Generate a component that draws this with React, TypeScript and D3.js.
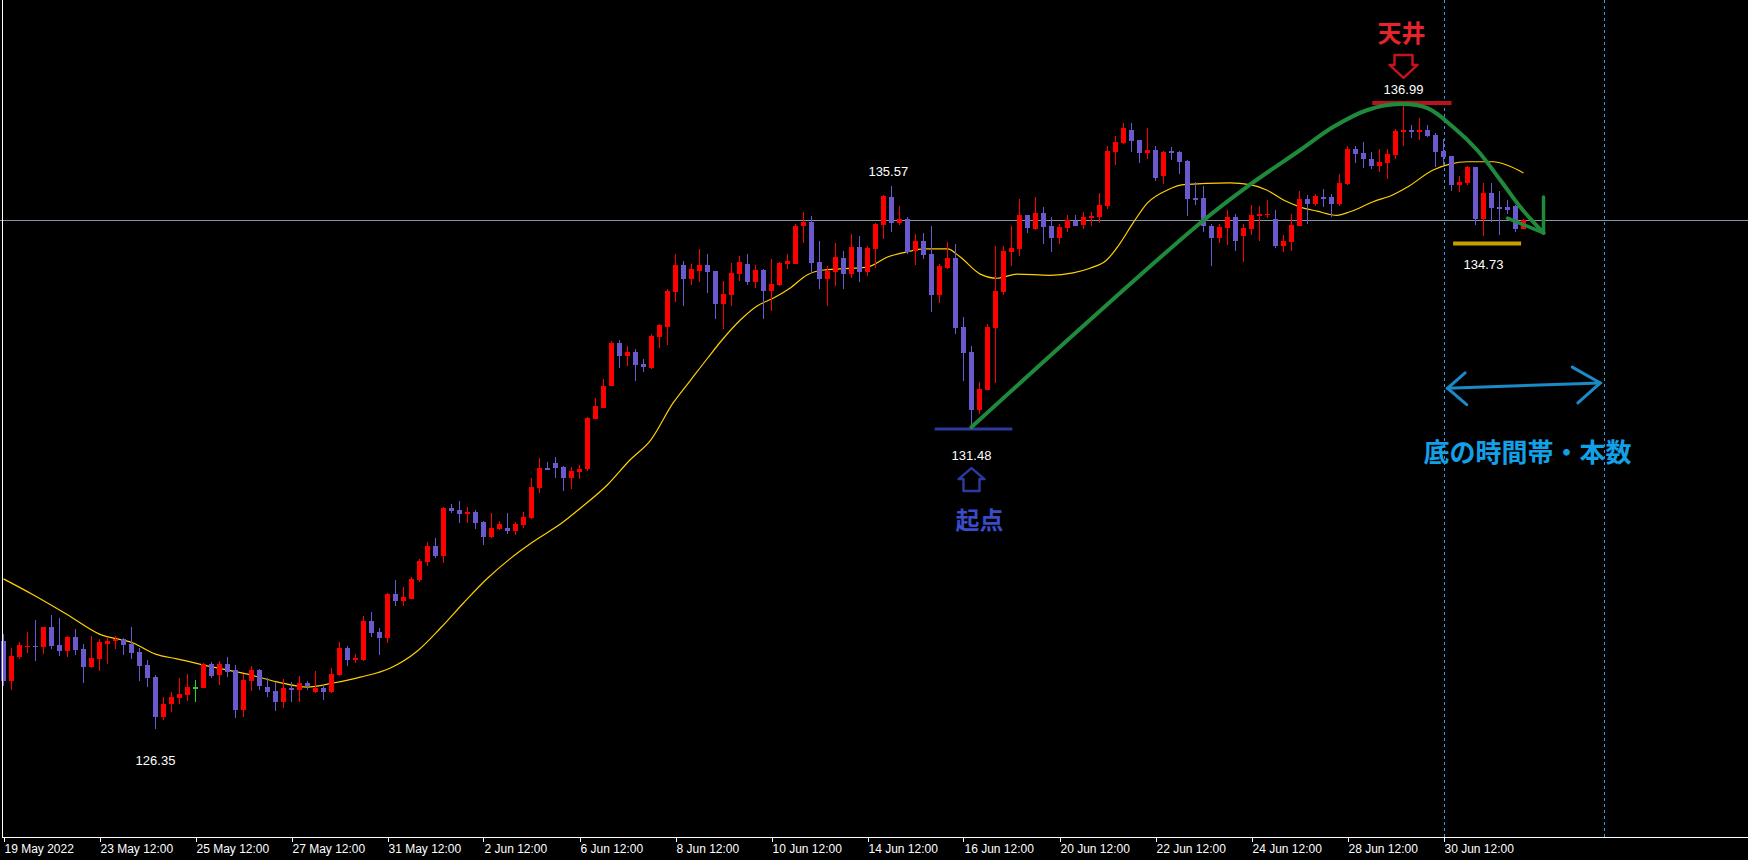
import React from 'react';
import * as d3 from 'd3';

// ---- Candle data (USDJPY H4, index 0 = 19 May 2022 12:00) ----
const opens = [127.85,127.17,127.58,127.74,127.76,127.74,128.08,127.77,127.67,127.91,127.71,127.40,127.54,127.80,127.84,127.88,127.80,127.66,127.43,127.23,126.56,126.77,126.88,126.92,127.06,127.05,127.45,127.26,127.45,127.35,126.67,127.16,127.35,127.06,126.99,126.81,127.04,127.01,127.13,126.98,127.04,126.98,127.26,127.72,127.53,127.52,128.18,128.00,127.90,128.64,128.53,128.56,128.88,129.19,129.46,129.29,130.10,130.07,130.01,130.04,129.87,129.62,129.75,129.76,129.72,129.82,129.93,130.44,130.78,130.87,130.80,130.62,130.72,130.76,131.62,131.81,132.18,132.91,132.69,132.76,132.55,132.48,133.01,133.18,133.78,134.23,134.00,134.14,134.23,134.13,133.58,133.73,134.09,134.25,133.95,134.15,133.80,133.89,134.26,134.26,134.89,134.97,134.29,134.00,134.12,134.35,134.09,134.54,134.12,134.51,134.92,135.39,134.95,135.02,134.47,134.64,134.42,133.73,134.19,134.35,133.18,132.76,131.77,132.11,133.16,133.77,134.46,134.51,135.08,134.85,135.12,134.90,134.70,134.87,134.99,134.92,135.04,135.05,135.24,136.16,136.31,136.53,136.36,136.14,136.19,135.74,136.17,136.16,136.00,135.37,135.37,134.90,134.70,134.87,135.05,134.73,134.85,135.06,135.09,135.02,134.56,134.63,134.90,135.36,135.27,135.39,135.39,135.27,135.61,136.21,136.14,136.04,135.92,135.97,136.11,136.50,136.53,136.50,136.53,136.45,136.17,136.09,135.60,135.63,135.90,135.02,135.46,135.22,135.22,135.24,134.85];
const highs = [127.96,127.72,127.83,128.00,128.20,128.09,128.28,128.23,127.93,128.05,127.79,127.93,127.88,127.92,127.93,127.89,128.08,127.73,127.52,127.27,126.89,126.98,127.21,127.28,127.18,127.47,127.49,127.50,127.57,127.43,127.28,127.42,127.37,127.21,127.15,127.20,127.15,127.25,127.16,127.33,127.11,127.38,127.83,127.76,127.62,128.27,128.34,128.06,128.66,128.88,128.76,128.93,129.24,129.53,129.59,130.12,130.17,130.22,130.12,130.07,129.88,130.02,129.88,130.02,129.87,130.04,130.61,130.95,130.89,130.97,130.82,130.80,130.84,131.65,131.97,132.30,132.94,132.96,132.86,132.81,132.64,133.07,133.24,133.83,134.43,134.30,134.25,134.51,134.42,134.14,133.97,134.27,134.39,134.42,134.23,134.17,134.33,134.29,134.42,134.94,135.14,135.07,134.64,134.22,134.61,134.47,134.76,134.73,134.56,134.95,135.43,135.57,135.24,135.05,134.76,134.78,134.90,134.25,134.63,134.59,133.35,132.86,132.25,133.24,134.55,134.56,134.89,135.36,135.09,135.39,135.22,135.05,134.93,135.09,135.09,135.14,135.14,135.46,136.26,136.42,136.65,136.65,136.36,136.56,136.25,136.17,136.24,136.17,136.02,135.65,135.58,134.93,134.93,135.17,135.11,134.93,135.26,135.23,135.34,135.17,134.74,135.11,135.49,135.43,135.44,135.53,135.44,135.79,136.26,136.25,136.33,136.15,136.21,136.21,136.55,136.99,136.62,136.73,136.62,136.48,136.38,136.09,135.75,135.92,135.90,135.63,135.63,135.49,135.34,135.26,135.02];
const lows = [127.08,127.01,127.54,127.64,127.50,127.62,127.71,127.59,127.58,127.60,127.13,127.39,127.34,127.46,127.71,127.60,127.54,127.17,127.07,126.35,126.50,126.64,126.78,126.83,126.80,127.04,127.22,127.09,127.23,126.54,126.56,126.99,127.01,126.89,126.65,126.70,126.81,126.80,127.01,126.96,126.84,126.96,127.25,127.42,127.47,127.51,127.92,127.61,127.81,128.44,128.44,128.55,128.85,129.12,129.26,129.17,130.02,129.85,129.85,129.74,129.48,129.60,129.73,129.67,129.65,129.77,129.92,130.36,130.75,130.62,130.40,130.43,130.59,130.74,131.61,131.80,132.17,132.48,132.51,132.27,132.42,132.47,132.83,132.87,133.61,133.54,133.90,133.95,133.76,133.32,133.14,133.54,133.97,133.90,133.85,133.31,133.46,133.88,134.16,134.25,134.61,134.10,133.82,133.53,133.88,133.82,134.02,133.95,134.04,134.19,134.68,134.80,134.92,134.43,134.24,134.33,133.44,133.59,134.17,133.07,132.27,131.48,131.71,132.11,132.23,133.73,134.21,134.38,134.78,134.83,134.59,134.46,134.60,134.80,134.89,134.85,134.90,134.95,135.18,135.93,136.29,136.16,135.97,136.04,135.67,135.62,136.02,135.79,135.06,135.25,134.80,134.21,134.61,134.58,134.48,134.29,134.75,134.65,135.03,134.52,134.46,134.48,134.89,134.94,135.23,135.22,135.05,135.23,135.60,135.97,135.88,135.87,135.82,135.70,136.04,136.26,136.39,136.36,136.41,135.90,135.94,135.49,135.48,135.60,134.92,134.73,134.97,134.75,135.11,134.80,134.84];
const closes = [127.17,127.59,127.77,127.76,127.75,128.08,127.76,127.67,127.91,127.69,127.40,127.55,127.83,127.84,127.87,127.77,127.64,127.42,127.21,126.56,126.78,126.89,126.94,127.06,127.06,127.46,127.25,127.45,127.32,126.67,127.18,127.35,127.08,126.98,126.81,127.04,127.01,127.13,127.08,127.04,126.98,127.28,127.72,127.52,127.55,128.18,127.98,127.90,128.64,128.53,128.59,128.90,129.20,129.46,129.29,130.10,130.06,130.01,130.04,129.85,129.62,129.76,129.83,129.72,129.83,129.95,130.46,130.78,130.76,130.79,130.62,130.73,130.77,131.63,131.84,132.18,132.91,132.69,132.76,132.53,132.50,133.03,133.21,133.79,134.23,134.00,134.17,134.23,134.12,133.58,133.74,134.10,134.29,133.95,134.15,133.80,133.91,134.27,134.30,134.90,134.97,134.27,134.00,134.14,134.37,134.09,134.54,134.12,134.52,134.93,135.41,134.95,135.02,134.46,134.64,134.41,133.73,134.21,134.35,133.16,132.74,131.77,132.12,133.18,133.80,134.47,134.53,135.09,134.87,135.12,134.88,134.70,134.88,135.00,134.90,135.05,135.07,135.26,136.17,136.33,136.56,136.35,136.14,136.19,135.72,136.16,136.14,135.99,135.36,135.36,134.89,134.70,134.88,135.05,134.65,134.86,135.09,135.10,135.11,134.56,134.64,134.92,135.36,135.27,135.41,135.37,135.27,135.63,136.21,136.12,136.04,135.92,135.99,136.13,136.51,136.53,136.50,136.53,136.43,136.16,136.07,135.60,135.65,135.90,135.02,135.46,135.20,135.20,135.17,134.85,135.00];

// ---- Time axis ----
const tickIdx = [0, 12, 24, 36, 48, 60, 72, 84, 96, 108, 120, 132, 144, 156, 168, 180];
const tickLabels = ['19 May 2022', '23 May 12:00', '25 May 12:00', '27 May 12:00', '31 May 12:00', '2 Jun 12:00', '6 Jun 12:00', '8 Jun 12:00', '10 Jun 12:00', '14 Jun 12:00', '16 Jun 12:00', '20 Jun 12:00', '22 Jun 12:00', '24 Jun 12:00', '28 Jun 12:00', '30 Jun 12:00'];

// ---- Moving average (yellow), read at sample bars ----
const maIdx = [0, 3.7, 8, 12, 16.2, 19, 21.7, 26.2, 30.5, 34.2, 38, 41.2, 44.6, 48.3, 51.7, 54.6, 57.5, 60.5, 63.3, 66.2, 70, 72.1, 75.5, 78.3, 80.9, 83.7, 85.9, 88, 90, 92.1, 94.2, 96.2, 98.3, 100.5, 102.5, 104.6, 108, 110.5, 113, 115, 118, 119.6, 122.1, 124.2, 126.7, 130.8, 133.7, 135.8, 137.9, 139.6, 141.2, 143, 145.5, 147.5, 153.3, 155.8, 157.9, 160, 162.1, 164.2, 166.7, 168.3, 171.2, 173.7, 175.5, 178.7, 180.8, 183, 186.2, 188, 190];
const maVal = [128.90, 128.63, 128.29, 127.96, 127.81, 127.62, 127.54, 127.40, 127.28, 127.15, 127.06, 127.13, 127.23, 127.38, 127.67, 128.06, 128.49, 128.91, 129.24, 129.53, 129.87, 130.10, 130.50, 130.92, 131.26, 131.89, 132.28, 132.65, 132.99, 133.30, 133.54, 133.67, 133.84, 134.07, 134.15, 134.17, 134.20, 134.37, 134.46, 134.51, 134.51, 134.37, 134.08, 134.01, 134.08, 134.06, 134.10, 134.18, 134.32, 134.61, 134.95, 135.29, 135.51, 135.60, 135.63, 135.60, 135.51, 135.34, 135.22, 135.15, 135.08, 135.14, 135.31, 135.43, 135.56, 135.85, 135.95, 135.99, 135.99, 135.93, 135.80];

// ---- Price labels ----
const priceLabelIdx = [175, 110.6, 19, 121, 185];
const priceLabelVal = [136.99, 135.57, 126.35, 131.48, 134.73];
const priceLabelOffset = [-9, -10.5, 36, 32.5, 33];

// ---- Hand-drawn annotations (in bar / price space) ----
const greenIdx = [121, 149.6, 155.8, 162.1, 166.2, 170.5, 174.6, 178, 181.2, 184.2, 187.1, 189.6, 192.5];
const greenVal = [131.48, 134.95, 135.60, 136.19, 136.58, 136.87, 136.97, 136.90, 136.58, 136.19, 135.68, 135.22, 134.78];
const hLevel = 135.0;
const vLines = [180, 200];

const W = 1748;
const H = 860;
const AXIS_Y = 837;

export default function App() {
  React.useEffect(() => {
    document.body.style.margin = '0';
    document.body.style.background = '#000';
  }, []);

  const x = d3.scaleLinear().domain([0, 200]).range([3.5, 1603.5]);
  const y = d3.scaleLinear().domain([125, 137]).range([220 + 10 * 58.83, 220 - 2 * 58.83]);

  const candles = opens.map((o, i) => ({ i, o, h: highs[i], l: lows[i], c: closes[i] }));
  const colorOf = (o: number, c: number) => (c > o ? '#ff0000' : c < o ? '#6a5acd' : '#32cd32');

  const maLine = d3.line<number>().x((_, k) => x(maIdx[k])).y((v) => y(v)).curve(d3.curveMonotoneX)(maVal) || '';
  const greenLine = d3.line<number>().x((_, k) => x(greenIdx[k])).y((v) => y(v)).curve(d3.curveCatmullRom.alpha(0.5))(greenVal) || '';

  const font = 'Liberation Sans, Arial, sans-serif';
  const jp = '"Noto Sans CJK JP", sans-serif';

  const topX = x(175), topY = y(136.99);
  const lowX = x(121), lowY = y(131.48);
  const tipX = x(192.5), tipY = y(134.78);

  return (
    <svg width={W} height={H} style={{ display: 'block', background: '#000' }}>
      <rect x={0} y={0} width={W} height={H} fill="#000" />

      <line x1={0} x2={W} y1={Math.round(y(hLevel)) + 0.5} y2={Math.round(y(hLevel)) + 0.5} stroke="#8c94a4" strokeWidth={1} />

      {vLines.map((v) => (
        <line key={v} x1={Math.round(x(v)) + 0.5} x2={Math.round(x(v)) + 0.5} y1={0} y2={AXIS_Y} stroke="#2d9be6" strokeWidth={1} strokeDasharray="3,3" />
      ))}

      <path d={maLine} fill="none" stroke="#ffd000" strokeWidth={1.2} />

      <g shapeRendering="crispEdges">
        {candles.map((d) => {
          const col = colorOf(d.o, d.c);
          const cx = x(d.i);
          const top = y(Math.max(d.o, d.c));
          const bot = y(Math.min(d.o, d.c));
          return (
            <g key={d.i}>
              <rect x={cx - 0.5} y={y(d.h)} width={1} height={Math.max(1, y(d.l) - y(d.h))} fill={col} />
              <rect x={cx - 2.5} y={top} width={5} height={Math.max(1.5, bot - top)} fill={col} />
            </g>
          );
        })}
      </g>

      <line x1={x(171.1)} x2={x(181)} y1={y(136.99)} y2={y(136.99)} stroke="#b8141e" strokeWidth={4} />
      <line x1={x(116.4)} x2={x(126.1)} y1={y(131.48) + 2} y2={y(131.48) + 2} stroke="#2b3a9e" strokeWidth={3} />
      <line x1={x(181.2)} x2={x(189.7)} y1={y(134.6)} y2={y(134.6)} stroke="#c8a000" strokeWidth={4} />

      <path d={greenLine} fill="none" stroke="#1f8a3c" strokeWidth={4} strokeLinecap="round" strokeLinejoin="round" />
      <line x1={tipX} y1={tipY} x2={x(192.5)} y2={y(135.39)} stroke="#1f8a3c" strokeWidth={3.5} strokeLinecap="round" />
      <line x1={tipX} y1={tipY} x2={x(188)} y2={y(135.03)} stroke="#1f8a3c" strokeWidth={3.5} strokeLinecap="round" />

      <g stroke="#1a8ac8" strokeWidth={3} strokeLinecap="round" fill="none">
        <line x1={x(180.5)} y1={y(132.14)} x2={x(199.6)} y2={y(132.23)} />
        <polyline points={`${x(182.7)},${y(132.4)} ${x(180.5)},${y(132.14)} ${x(182.9)},${y(131.86)}`} />
        <polyline points={`${x(196.1)},${y(132.5)} ${x(199.6)},${y(132.23)} ${x(196.8)},${y(131.89)}`} />
      </g>

      <path
        d={`M${topX - 9},${topY - 48} L${topX + 9},${topY - 48} L${topX + 9},${topY - 38} L${topX + 14},${topY - 38} L${topX},${topY - 25} L${topX - 14},${topY - 38} L${topX - 9},${topY - 38} Z`}
        fill="none" stroke="#c0141e" strokeWidth={2.5} strokeLinejoin="round"
      />
      <text x={topX - 2} y={topY - 61} fill="#e8232b" fontFamily={jp} fontWeight={700} fontSize={24} textAnchor="middle">天井</text>

      <path
        d={`M${lowX},${lowY + 41} L${lowX + 13},${lowY + 52} L${lowX + 8},${lowY + 52} L${lowX + 8},${lowY + 64} L${lowX - 8},${lowY + 64} L${lowX - 8},${lowY + 52} L${lowX - 13},${lowY + 52} Z`}
        fill="none" stroke="#2b3a9e" strokeWidth={2.5} strokeLinejoin="round"
      />
      <text x={lowX + 8} y={lowY + 102} fill="#3a4cc8" fontFamily={jp} fontWeight={700} fontSize={24} textAnchor="middle">起点</text>

      <text x={x(190.5)} y={y(132.23) + 79} fill="#14a0e6" fontFamily={jp} fontWeight={700} fontSize={26} textAnchor="middle">底の時間帯・本数</text>

      {priceLabelIdx.map((pi, k) => (
        <text key={k} x={x(pi)} y={y(priceLabelVal[k]) + priceLabelOffset[k]} fill="#ffffff" fontFamily={font} fontSize={13} textAnchor="middle">
          {priceLabelVal[k].toFixed(2)}
        </text>
      ))}

      <line x1={2.5} x2={2.5} y1={0} y2={AXIS_Y} stroke="#ffffff" strokeWidth={1} />
      <line x1={2} x2={W} y1={AXIS_Y + 0.5} y2={AXIS_Y + 0.5} stroke="#ffffff" strokeWidth={1} />
      {tickIdx.map((t, k) => (
        <g key={t}>
          <line x1={Math.round(x(t)) + 0.5} x2={Math.round(x(t)) + 0.5} y1={AXIS_Y} y2={AXIS_Y + 5} stroke="#ffffff" strokeWidth={1} />
          <text x={x(t) + 1} y={AXIS_Y + 16} fill="#ffffff" fontFamily={font} fontSize={12}>{tickLabels[k]}</text>
        </g>
      ))}
    </svg>
  );
}
